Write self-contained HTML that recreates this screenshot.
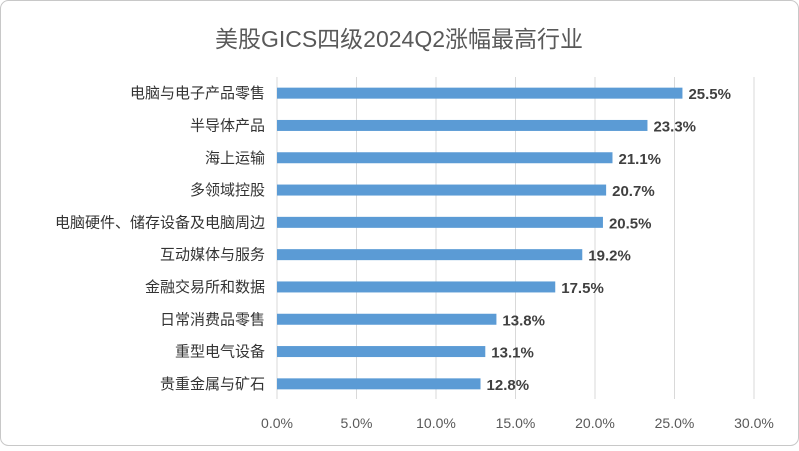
<!DOCTYPE html>
<html><head><meta charset="utf-8"><style>
html,body{margin:0;padding:0;background:#fff}
body{width:799px;height:446px;overflow:hidden;font-family:"Liberation Sans","Noto Sans CJK SC",sans-serif}
</style></head><body>
<svg id="chart" width="799" height="446" xmlns="http://www.w3.org/2000/svg">
<rect x="0.5" y="0.5" width="798" height="445" rx="8" fill="#fff" stroke="#c8c8c8"/>
<text x="399" y="47" text-anchor="middle" font-size="23" fill="#595959" font-family="Liberation Sans, Noto Sans CJK SC, sans-serif">美股GICS四级2024Q2涨幅最高行业</text>
<g id="grid"></g><g id="bars"></g><g id="labels"></g>
</svg>
<script>
const categories=["电脑与电子产品零售","半导体产品","海上运输","多领域控股","电脑硬件、储存设备及电脑周边","互动媒体与服务","金融交易所和数据","日常消费品零售","重型电气设备","贵重金属与矿石"];
const values=[25.5,23.3,21.1,20.7,20.5,19.2,17.5,13.8,13.1,12.8];
const ticks=[0,5,10,15,20,25,30];
const x0=277,pxPer=15.9,yTop=77,step=32.3,barH=11;
const xs=v=>x0+v*pxPer;
const yc=i=>yTop+step*(i+0.5);
const NS="http://www.w3.org/2000/svg";
const g=document.getElementById('grid'),b=document.getElementById('bars'),l=document.getElementById('labels');
ticks.forEach(t=>{
 const ln=document.createElementNS(NS,'line');
 
 
 ln.setAttribute('x1',xs(t));ln.setAttribute('x2',xs(t));ln.setAttribute('y1',yTop);ln.setAttribute('y2',399);
 ln.setAttribute('stroke','#d9d9d9');ln.setAttribute('stroke-width','1');g.appendChild(ln);
 const tx=document.createElementNS(NS,'text');
 
 
 tx.setAttribute('x',xs(t));tx.setAttribute('y',428);tx.setAttribute('text-anchor','middle');
 tx.setAttribute('font-size','14');tx.setAttribute('fill','#595959');tx.textContent=t.toFixed(1)+'%';g.appendChild(tx);
});
categories.forEach((c,i)=>{
 const r=document.createElementNS(NS,'rect');
 
 
 r.setAttribute('x',xs(0));r.setAttribute('y',yc(i)-barH/2);r.setAttribute('width',xs(values[i])-xs(0));r.setAttribute('height',barH);
 r.setAttribute('fill','#5b9bd5');b.appendChild(r);
 const v=document.createElementNS(NS,'text');
 
 
 v.setAttribute('x',xs(values[i])+6);v.setAttribute('y',yc(i)+6);v.setAttribute('font-size','15');v.setAttribute('font-weight','bold');
 v.setAttribute('fill','#404040');v.textContent=values[i].toFixed(1)+'%';l.appendChild(v);
 const t=document.createElementNS(NS,'text');
 
 
 t.setAttribute('x',265);t.setAttribute('y',yc(i)+5);t.setAttribute('text-anchor','end');t.setAttribute('font-size','15');
 t.setAttribute('fill','#333333');t.textContent=c;l.appendChild(t);
});
</script>
</body></html>
